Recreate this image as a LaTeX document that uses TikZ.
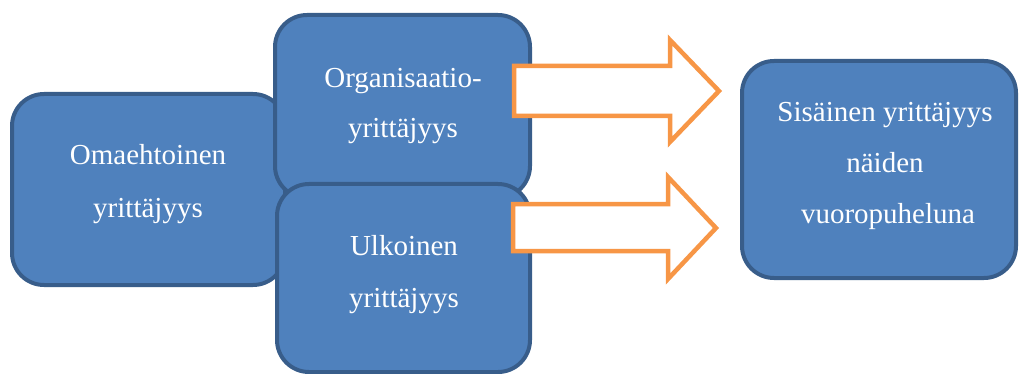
\documentclass[tikz,border=0pt]{standalone}
\usepackage{fontspec}
\setmainfont{Liberation Serif}
\definecolor{boxfill}{HTML}{4F81BD}
\definecolor{boxline}{HTML}{385D8A}
\definecolor{arrowline}{HTML}{F79646}
\begin{document}
\begin{tikzpicture}[x=1pt,y=-1pt,
  blubox/.style={draw=boxline,fill=boxfill,line width=4pt,rounded corners=32pt},
  bigarrow/.style={draw=arrowline,fill=white,line width=4.5pt,line join=miter},
  lbl/.style={anchor=base,text=white,inner sep=0pt,font=\fontsize{29}{35}\selectfont}]
\useasboundingbox (0,0) rectangle (1019,374);
% boxes
\draw[blubox] (12,94) rectangle (285,285);
\draw[blubox] (275,15) rectangle (530,198);
\draw[blubox] (277,184) rectangle (530,372);
\draw[blubox] (742,61) rectangle (1016,278);
% arrows
\draw[bigarrow] (514,66) -- (670,66) -- (670,40) -- (719,91) -- (670,142) -- (670,116) -- (514,116) -- cycle;
\draw[bigarrow] (513,204) -- (668,204) -- (668,177) -- (716,228) -- (668,279) -- (668,251) -- (513,251) -- cycle;
% labels
\node[lbl] (a1) at (148,165) {Omaehtoinen};
\node[lbl] (a2) at (148,217) {yrittäjyys};
\node[lbl] (b1) at (403,88) {Organisaatio-};
\node[lbl] (b2) at (403,138) {yrittäjyys};
\node[lbl] (c1) at (404,255) {Ulkoinen};
\node[lbl] (c2) at (404,307) {yrittäjyys};
\node[lbl] (d1) at (885,122) {Sisäinen yrittäjyys};
\node[lbl] (d2) at (885,172) {näiden};
\node[lbl] (d3) at (888,223) {vuoropuheluna};
\end{tikzpicture}
\end{document}
